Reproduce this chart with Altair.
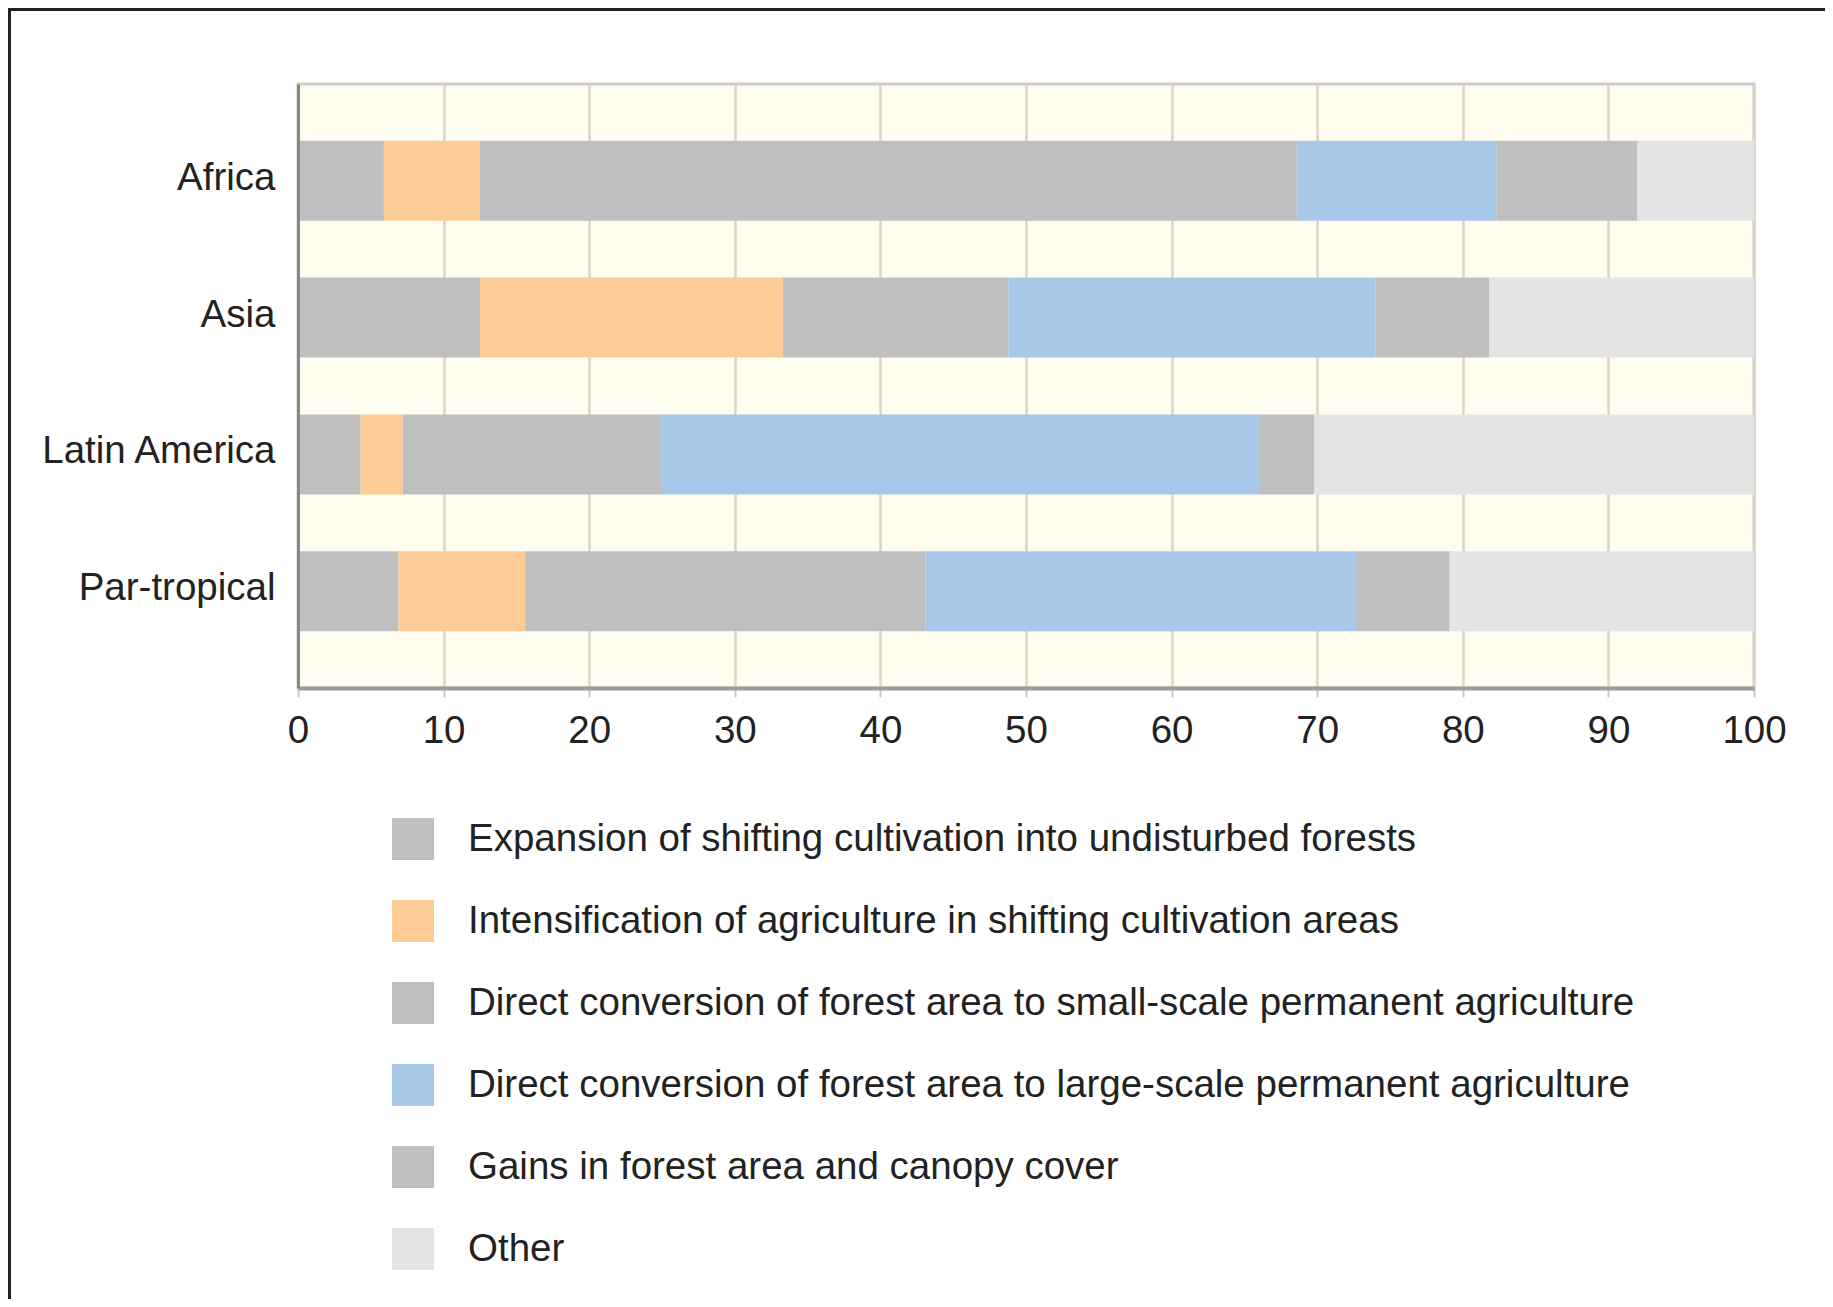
import altair as alt
import pandas as pd

regions = ["Africa", "Asia", "Latin America", "Par-tropical"]
categories = [
    "Expansion of shifting cultivation into undisturbed forests",
    "Intensification of agriculture in shifting cultivation areas",
    "Direct conversion of forest area to small-scale permanent agriculture",
    "Direct conversion of forest area to large-scale permanent agriculture",
    "Gains in forest area and canopy cover",
    "Other",
]
colors = ["#BFBFBF", "#FDCC96", "#BFBFBF", "#A8C8E9", "#BFBFBF", "#E4E4E4"]

expansion = [5.9, 12.5, 4.3, 6.9]
intensification = [6.6, 20.8, 2.9, 8.7]
small_scale = [56.1, 15.5, 17.8, 27.5]
large_scale = [13.7, 25.2, 41.0, 29.5]
gains = [9.7, 7.8, 3.8, 6.5]
other = [8.0, 18.2, 30.2, 20.9]

x_ticks = [0, 10, 20, 30, 40, 50, 60, 70, 80, 90, 100]

series = [expansion, intensification, small_scale, large_scale, gains, other]
rows = []
for ci, (cat, vals) in enumerate(zip(categories, series)):
    for region, v in zip(regions, vals):
        rows.append({"region": region, "category": cat, "order": ci, "value": v})
df = pd.DataFrame(rows)

FONT = "Liberation Sans, Arial, Helvetica, sans-serif"

bars = alt.Chart(df).mark_bar(strokeWidth=0).encode(
    y=alt.Y(
        "region:N",
        sort=regions,
        title=None,
        scale=alt.Scale(paddingInner=0.415, paddingOuter=0.415),
        axis=alt.Axis(
            labelFont=FONT,
            labelFontSize=38.5,
            labelColor="#222222",
            labelPadding=23,
            labelLimit=1000,
            labelOffset=-3,
            ticks=False,
            grid=False,
            domainColor="#888888",
            domainWidth=3,
            zindex=1,
        ),
    ),
    x=alt.X(
        "value:Q",
        stack="zero",
        title=None,
        scale=alt.Scale(domain=[0, 100], nice=False),
        axis=alt.Axis(
            values=x_ticks,
            labelFont=FONT,
            labelFontSize=38.5,
            labelColor="#222222",
            labelPadding=15,
            labelFlush=False,
            labelOverlap=False,
            tickColor="#C8C8C8",
            tickSize=9,
            tickWidth=2,
            grid=True,
            gridColor="#D9D6C4",
            gridWidth=2.5,
            domainColor="#9C9C9C",
            domainWidth=4,
        ),
    ),
    color=alt.Color(
        "category:N",
        sort=categories,
        scale=alt.Scale(domain=categories, range=colors),
        legend=alt.Legend(
            title=None,
            orient="none",
            legendX=94,
            legendY=734,
            direction="vertical",
            columns=1,
            symbolType="square",
            symbolSize=1764,
            symbolStrokeWidth=0,
            labelFont=FONT,
            labelFontSize=38.5,
            labelColor="#222222",
            labelLimit=3000,
            labelOffset=34,
            rowPadding=40,
            padding=0,
        ),
    ),
    order=alt.Order("order:Q", sort="ascending"),
)

frame_data = alt.Data(values=[{"k": 0}])
top_line = alt.Chart(frame_data).mark_rule(color="#222222", strokeWidth=4).encode(
    x=alt.value(-289), x2=alt.value(1540), y=alt.value(-75)
)
left_line = alt.Chart(frame_data).mark_rule(color="#222222", strokeWidth=4).encode(
    x=alt.value(-289), y=alt.value(-77), y2=alt.value(1300)
)

chart = alt.layer(bars, top_line, left_line).properties(
    width=1456,
    height=604,
    padding={"left": 290, "top": 76, "right": 71, "bottom": 611},
    autosize=alt.AutoSizeParams(type="none"),
    background="#FFFFFF",
).configure_view(
    fill="#FFFCF0",
    stroke="#CCCCCC",
    strokeWidth=3,
)

chart.save("out.html", embed_options={"renderer": "svg", "actions": False})
